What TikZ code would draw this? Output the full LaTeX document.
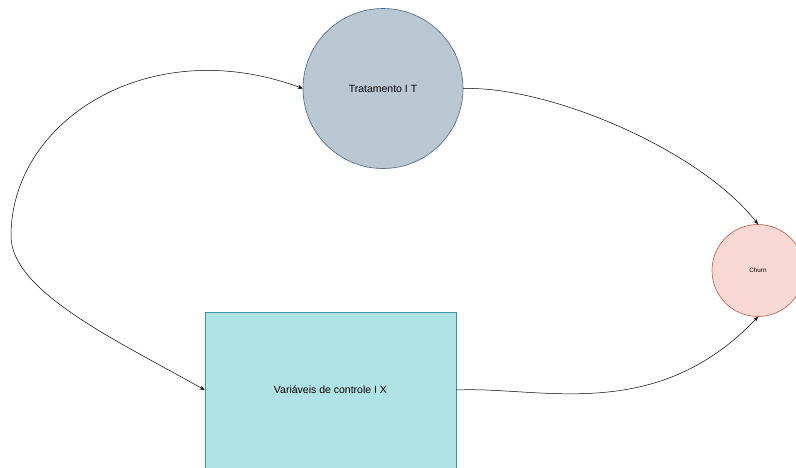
\documentclass[tikz,border=0pt]{standalone}
\usepackage{fontspec}
\setmainfont{Liberation Sans}
\usetikzlibrary{arrows.meta}

\definecolor{tfill}{HTML}{BAC8D3}
\definecolor{tdraw}{HTML}{4A6680}
\definecolor{cfill}{HTML}{FAD9D5}
\definecolor{cdraw}{HTML}{C0584A}
\definecolor{xfill}{HTML}{B0E3E6}
\definecolor{xdraw}{HTML}{3A9AA0}

\tikzset{
  treat/.style={circle, draw=tdraw, fill=tfill, line width=0.6pt,
    minimum size=160pt, inner sep=0pt, font=\fontsize{10.5}{12}\selectfont},
  outcome/.style={circle, draw=cdraw, fill=cfill, line width=0.6pt,
    minimum size=92pt, inner sep=0pt, font=\fontsize{6.3}{8}\selectfont},
  covar/.style={rectangle, draw=xdraw, fill=xfill, line width=0.6pt,
    minimum width=251pt, minimum height=156pt, inner sep=0pt,
    font=\fontsize{10.5}{12}\selectfont},
  link/.style={line width=0.5pt, draw=black,
    -{Stealth[length=5pt,width=4pt]}},
  biglink/.style={line width=0.5pt, draw=black,
    {Stealth[length=5pt,width=4pt]}-{Stealth[length=5pt,width=4pt]}},
}

\begin{document}
\begin{tikzpicture}[x=1pt, y=-1pt]
  \useasboundingbox (0,0) rectangle (796,467);
  \fill[white] (0,0) rectangle (796,467);

  % nodes
  \node[treat] (T) at (383,88.5) {Tratamento I T};
  \node[outcome] (C) at (758,270.5) {Churn};
  \node[covar] (X) at (330.5,390) {Variáveis de controle I X};

  % treatment and covariates linked around the left side
  \coordinate (L) at (11,236);
  \draw[biglink] (X.west) .. controls (120,342) and (11,292) .. (L)
                 .. controls (11,120) and (150,32) .. (T.west);

  % effects on churn
  \draw[link] (T.east) .. controls (550,86) and (700,150) .. (C.north);
  \draw[link] (X.east) .. controls (540,386) and (655,425) .. (C.south);
\end{tikzpicture}
\end{document}
